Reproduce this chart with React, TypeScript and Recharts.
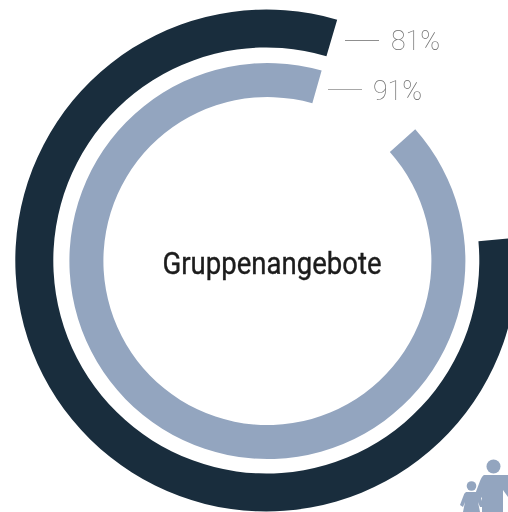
import React from 'react';
import { PieChart, Pie, Cell, Customized } from 'recharts';

const outerData = [{ name: 'Gruppenangebote', value: 81 }, { name: 'Rest', value: 19 }];
const innerData = [{ name: 'Gruppenangebote', value: 91 }, { name: 'Rest', value: 9 }];
const outerLabel = '81%';
const innerLabel = '91%';
const title = 'Gruppenangebote';
const DARK = '#192d3d';
const LIGHT = '#93a5bf';

function Overlay() {
  return (
    <g>
      <line x1={345} x2={379} y1={40.5} y2={40.5} stroke="#8f8f8f" strokeWidth={1} />
      <line x1={328} x2={362} y1={89.5} y2={89.5} stroke="#a8a8a8" strokeWidth={1} />
      <g style={{ filter: 'grayscale(1)' }}>
        <text x={391} y={50} fontFamily="Roboto" fontWeight={100} fontSize={28} fill="#6f6f6f" textLength={49} lengthAdjust="spacingAndGlyphs">{outerLabel}</text>
        <text x={373} y={99.5} fontFamily="Roboto" fontWeight={100} fontSize={28} fill="#6f6f6f" textLength={49} lengthAdjust="spacingAndGlyphs">{innerLabel}</text>
        <text x={272} y={274} textAnchor="middle" fontFamily="Roboto" fontSize={32} fontWeight={400} fill="#1c1c1c" stroke="#1c1c1c" strokeWidth={0.4} textLength={219} lengthAdjust="spacingAndGlyphs">{title}</text>
      </g>
      <g fill={LIGHT}>
        <circle cx={493.5} cy={466.5} r={7} />
        <path d="M484 475 Q482 476 480 481 L474 497 L478 502 L482 497 L482 512 L503 512 L503 490 L508 497 L508 475 Z" />
        <circle cx={471.5} cy={486} r={4.8} />
        <path d="M466 492 L477 492 Q479 493 481 498 L484 507 L480 507 L478 502 L480 512 L463 512 L465 502 L463 507 L460 505 L463 497 Q464 493 466 492 Z" />
      </g>
    </g>
  );
}

export default function App() {
  return (
    <div style={{ position: 'absolute', left: 0, top: 0, width: 508, height: 512, overflow: 'hidden', background: '#fff' }}>
      <PieChart width={508} height={512} margin={{ top: 0, right: 0, bottom: 0, left: 0 }}>
        <Pie data={outerData} dataKey="value" cx={266.3} cy={260.5} innerRadius={213} outerRadius={251} startAngle={5.2} endAngle={-354.8} stroke="none" isAnimationActive={false}>
          <Cell fill={DARK} />
          <Cell fill="none" />
        </Pie>
        <Pie data={innerData} dataKey="value" cx={267.4} cy={261} innerRadius={164} outerRadius={198} startAngle={41.7} endAngle={-318.3} stroke="none" isAnimationActive={false}>
          <Cell fill={LIGHT} />
          <Cell fill="none" />
        </Pie>
        <Customized component={Overlay} />
      </PieChart>
    </div>
  );
}
